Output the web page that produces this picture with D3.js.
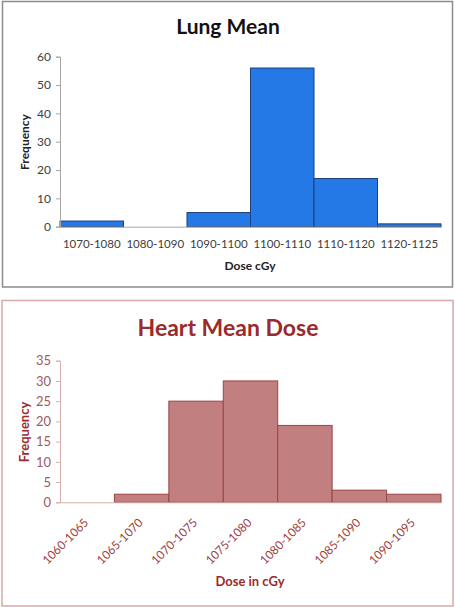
<!DOCTYPE html>
<html><head><meta charset="utf-8">
<script src="https://cdn.jsdelivr.net/npm/d3@7"></script>
<style>body{margin:0;background:#fff}svg{display:block}</style>
</head><body>
<svg id="c" width="455" height="607"></svg>
<script>
const lungCategories = ["1070-1080","1080-1090","1090-1100","1100-1110","1110-1120","1120-1125"];
const lungValues = [2, 0, 5, 56, 17, 1];
const lungTicks = [0,10,20,30,40,50,60];
const heartCategories = ["1060-1065","1065-1070","1070-1075","1075-1080","1080-1085","1085-1090","1090-1095"];
const heartValues = [0, 2, 25, 30, 19, 3, 2];
const heartTicks = [0,5,10,15,20,25,30,35];

const svg = d3.select("#c");
const font = "Lato, 'Open Sans', sans-serif";

// ---- Lung chart ----
svg.append("rect").attr("x",2.5).attr("y",1.5).attr("width",450).attr("height",285.5)
  .attr("fill","#fff").attr("stroke","#8c8c8c").attr("stroke-width",1.5);
const g1 = svg.append("g");
const x1 = d3.scaleBand().domain(lungCategories).range([60,441]).padding(0);
const y1 = d3.scaleLinear().domain([0,60]).range([226.7,56.7]);
g1.selectAll("rect.bar").data(lungValues).join("rect").attr("class","bar")
  .attr("x",(d,i)=>x1(lungCategories[i])).attr("width",x1.bandwidth())
  .attr("y",d=>y1(d)).attr("height",d=>y1(0)-y1(d))
  .attr("fill","#2479e6").attr("stroke","#1d3f7a").attr("stroke-width",1)
  .attr("display",d=>d===0?"none":null);
const ya1 = g1.append("g").attr("transform","translate(60,0)")
  .call(d3.axisLeft(y1).tickValues(lungTicks).tickSize(4).tickPadding(5));
ya1.select(".domain").attr("stroke","#a6a6a6");
ya1.selectAll(".tick line").attr("stroke","#a6a6a6");
ya1.selectAll("text").attr("fill","#404040").style("font-family",font).style("font-size","12px");
const xa1 = g1.append("g").attr("transform",`translate(0,${y1(0)})`)
  .call(d3.axisBottom(x1).tickSize(0).tickPadding(13));
xa1.select(".domain").attr("stroke","#a6a6a6");
xa1.selectAll("text").attr("fill","#404040").style("font-family",font).style("font-size","11.5px");
svg.append("text").attr("x",228).attr("y",34).attr("text-anchor","middle")
  .style("font-family",font).style("font-weight","bold").style("font-size","21px").attr("fill","#111").text("Lung Mean");
svg.append("text").attr("x",250).attr("y",270).attr("text-anchor","middle")
  .style("font-family",font).style("font-weight","bold").style("font-size","12px").attr("fill","#222").text("Dose cGy");
svg.append("text").attr("transform","translate(29,142) rotate(-90)").attr("text-anchor","middle")
  .style("font-family",font).style("font-weight","bold").style("font-size","12px").attr("fill","#222").text("Frequency");

// ---- Heart chart ----
svg.append("rect").attr("x",2).attr("y",300.5).attr("width",451).attr("height",305.5)
  .attr("fill","#fff").attr("stroke","#d8a9a9").attr("stroke-width",1.5);
const g2 = svg.append("g");
const x2 = d3.scaleBand().domain(heartCategories).range([60,441]).padding(0);
const y2 = d3.scaleLinear().domain([0,35]).range([502.3,360.7]);
g2.selectAll("rect.bar").data(heartValues).join("rect").attr("class","bar")
  .attr("x",(d,i)=>x2(heartCategories[i])).attr("width",x2.bandwidth())
  .attr("y",d=>y2(d)).attr("height",d=>y2(0)-y2(d))
  .attr("fill","#c27f7f").attr("stroke","#9a4545").attr("stroke-width",1)
  .attr("display",d=>d===0?"none":null);
const ya2 = g2.append("g").attr("transform","translate(60,0)")
  .call(d3.axisLeft(y2).tickValues(heartTicks).tickSize(4).tickPadding(5));
ya2.select(".domain").attr("stroke","#d8b0b0");
ya2.selectAll(".tick line").attr("stroke","#d8b0b0");
ya2.selectAll("text").attr("fill","#a05a5a").style("font-family",font).style("font-size","13px");
const xa2 = g2.append("g").attr("transform",`translate(0,${y2(0)})`)
  .call(d3.axisBottom(x2).tickSize(0).tickPadding(0));
xa2.select(".domain").attr("stroke","#d8b0b0");
xa2.selectAll("text").attr("fill","#a0403f").style("font-family",font).style("font-size","11.8px")
  .attr("text-anchor","end").attr("dy",null).attr("y",0)
  .attr("transform","translate(2,21) rotate(-45)");
svg.append("text").attr("x",228).attr("y",336).attr("text-anchor","middle")
  .style("font-family",font).style("font-weight","bold").style("font-size","23px").attr("fill","#9b2a2c").text("Heart Mean Dose");
svg.append("text").attr("x",250).attr("y",586).attr("text-anchor","middle")
  .style("font-family",font).style("font-weight","bold").style("font-size","13px").attr("fill","#9b2a2c").text("Dose in cGy");
svg.append("text").attr("transform","translate(29,432) rotate(-90)").attr("text-anchor","middle")
  .style("font-family",font).style("font-weight","bold").style("font-size","13px").attr("fill","#9b2a2c").text("Frequency");
</script>
</body></html>
